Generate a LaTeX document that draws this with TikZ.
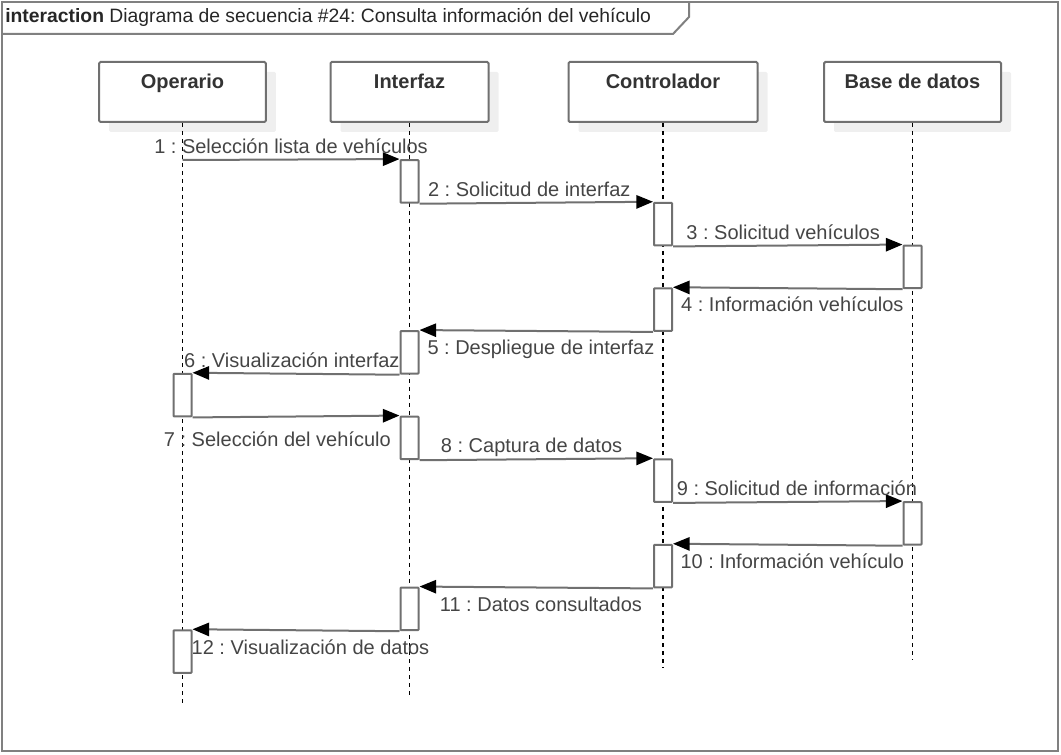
\documentclass[tikz,border=0pt]{standalone}
\usepackage{fontspec}
\setmainfont{Liberation Sans}
\usetikzlibrary{positioning,arrows.meta,calc,shadows}
\definecolor{lnc}{HTML}{707070}
\definecolor{txc}{HTML}{454545}
\definecolor{shd}{HTML}{EFEFEF}
\newcommand{\seqfont}{\fontsize{15}{18}\selectfont}
\tikzset{
  head/.style={draw=lnc, line width=1.5pt, fill=white, rounded corners=1pt, minimum height=45pt,
    drop shadow={shadow xshift=7.5pt, shadow yshift=-7.5pt, fill=shd, opacity=1}},
  headtxt/.style={anchor=north, yshift=-6pt, font=\seqfont\bfseries, text=black!80},
  act/.style={draw=lnc, line width=1.5pt, fill=white, rounded corners=0.5pt, minimum width=13.5pt, minimum height=32pt, inner sep=0pt},
  life/.style={line width=1.1pt, dash pattern=on 3pt off 3pt},
  msg/.style={draw=lnc, line width=1.5pt, -{Triangle[length=12.5pt, width=10pt, color=black]}},
  lbl/.style={text=txc, inner sep=1pt, text height=10.5pt, text depth=3pt},
}

\begin{document}
\frenchspacing
\begin{tikzpicture}[x=0.75pt, y=-0.75pt, font=\seqfont]
  \useasboundingbox (0,0) rectangle (1061,755);
  % frame and title tab
  \draw[draw=gray, line width=1.6pt] (2,2) rectangle (1058,751);
  \draw[draw=gray, line width=1.5pt] (2,34) -- (673,34) -- (689,17) -- (689,2);
  \node[anchor=west, inner sep=0pt, text=black!85, font=\fontsize{14.5}{17}\selectfont] (title) at (5,17)
    {\textbf{interaction} Diagrama de secuencia \#24: Consulta información del vehículo};

  % lifeline heads
  \node[head, minimum width=125pt, label={[headtxt]north:Operario}] (op) at (182.5,92) {};
  \node[head, minimum width=118.5pt, label={[headtxt]north:Interfaz}] (inf) at (409.5,92) {};
  \node[head, minimum width=141.75pt, label={[headtxt]north:Controlador}] (ctl) at (663,92) {};
  \node[head, minimum width=132.75pt, label={[headtxt]north:Base de datos}] (bd) at (912.5,92) {};

  % lifelines
  \coordinate (opEnd) at (182.5,704);
  \coordinate (infEnd) at (409.5,695);
  \coordinate (ctlEnd) at (663,668);
  \coordinate (bdEnd) at (912.5,660);
  \draw[life] (op.south) -- (opEnd);
  \draw[life] (inf.south) -- (infEnd);
  \draw[life] (ctl.south) -- (ctlEnd);
  \draw[life] (bd.south) -- (bdEnd);

  % activations
  \node[act] (i1) at (409.5,181.4) {};
  \node[act] (c1) at (663,224.1) {};
  \node[act] (b1) at (912.5,266.9) {};
  \node[act] (c2) at (663,309.6) {};
  \node[act] (i2) at (409.5,352.4) {};
  \node[act] (o1) at (182.5,395.1) {};
  \node[act] (i3) at (409.5,437.9) {};
  \node[act] (c3) at (663,480.6) {};
  \node[act] (b2) at (912.5,523.4) {};
  \node[act] (c4) at (663,566.1) {};
  \node[act] (i4) at (409.5,608.9) {};
  \node[act] (o2) at (182.5,651.6) {};

  % messages
  \coordinate (o0) at (182.5,160);
  \draw[msg] (o0) -- node[lbl, above=0pt] {1 : Selección lista de vehículos} (i1.north west);
  \draw[msg] (i1.south east) -- node[lbl, above=0pt, pos=0.47] {2 : Solicitud de interfaz} (c1.north west);
  \draw[msg] (c1.south east) -- node[lbl, above=0pt, pos=0.48] {3 : Solicitud vehículos} (b1.north west);
  \draw[msg] (b1.south west) -- node[lbl, below=5.5pt, pos=0.48] {4 : Información vehículos} (c2.north east);
  \draw[msg] (c2.south west) -- node[lbl, below=5.5pt, pos=0.48] {5 : Despliegue de interfaz} (i2.north east);
  \draw[msg] (i2.south west) -- node[lbl, above=0pt, pos=0.52] {6 : Visualización interfaz} (o1.north east);
  \draw[msg] (o1.south east) -- node[lbl, below=10pt, pos=0.41] {7 : Selección del vehículo} (i3.north west);
  \draw[msg] (i3.south east) -- node[lbl, above=0pt, pos=0.48] {8 : Captura de datos} (c3.north west);
  \draw[msg] (c3.south east) -- node[lbl, above=0pt, pos=0.54] {9 : Solicitud de información} (b2.north west);
  \draw[msg] (b2.south west) -- node[lbl, below=5.5pt, pos=0.48] {10 : Información vehículo} (c4.north east);
  \draw[msg] (c4.south west) -- node[lbl, below=5.5pt, pos=0.48] {11 : Datos consultados} (i4.north east);
  \draw[msg] (i4.south west) -- node[lbl, below=5.5pt, pos=0.43] {12 : Visualización de datos} (o2.north east);
\end{tikzpicture}
\end{document}
